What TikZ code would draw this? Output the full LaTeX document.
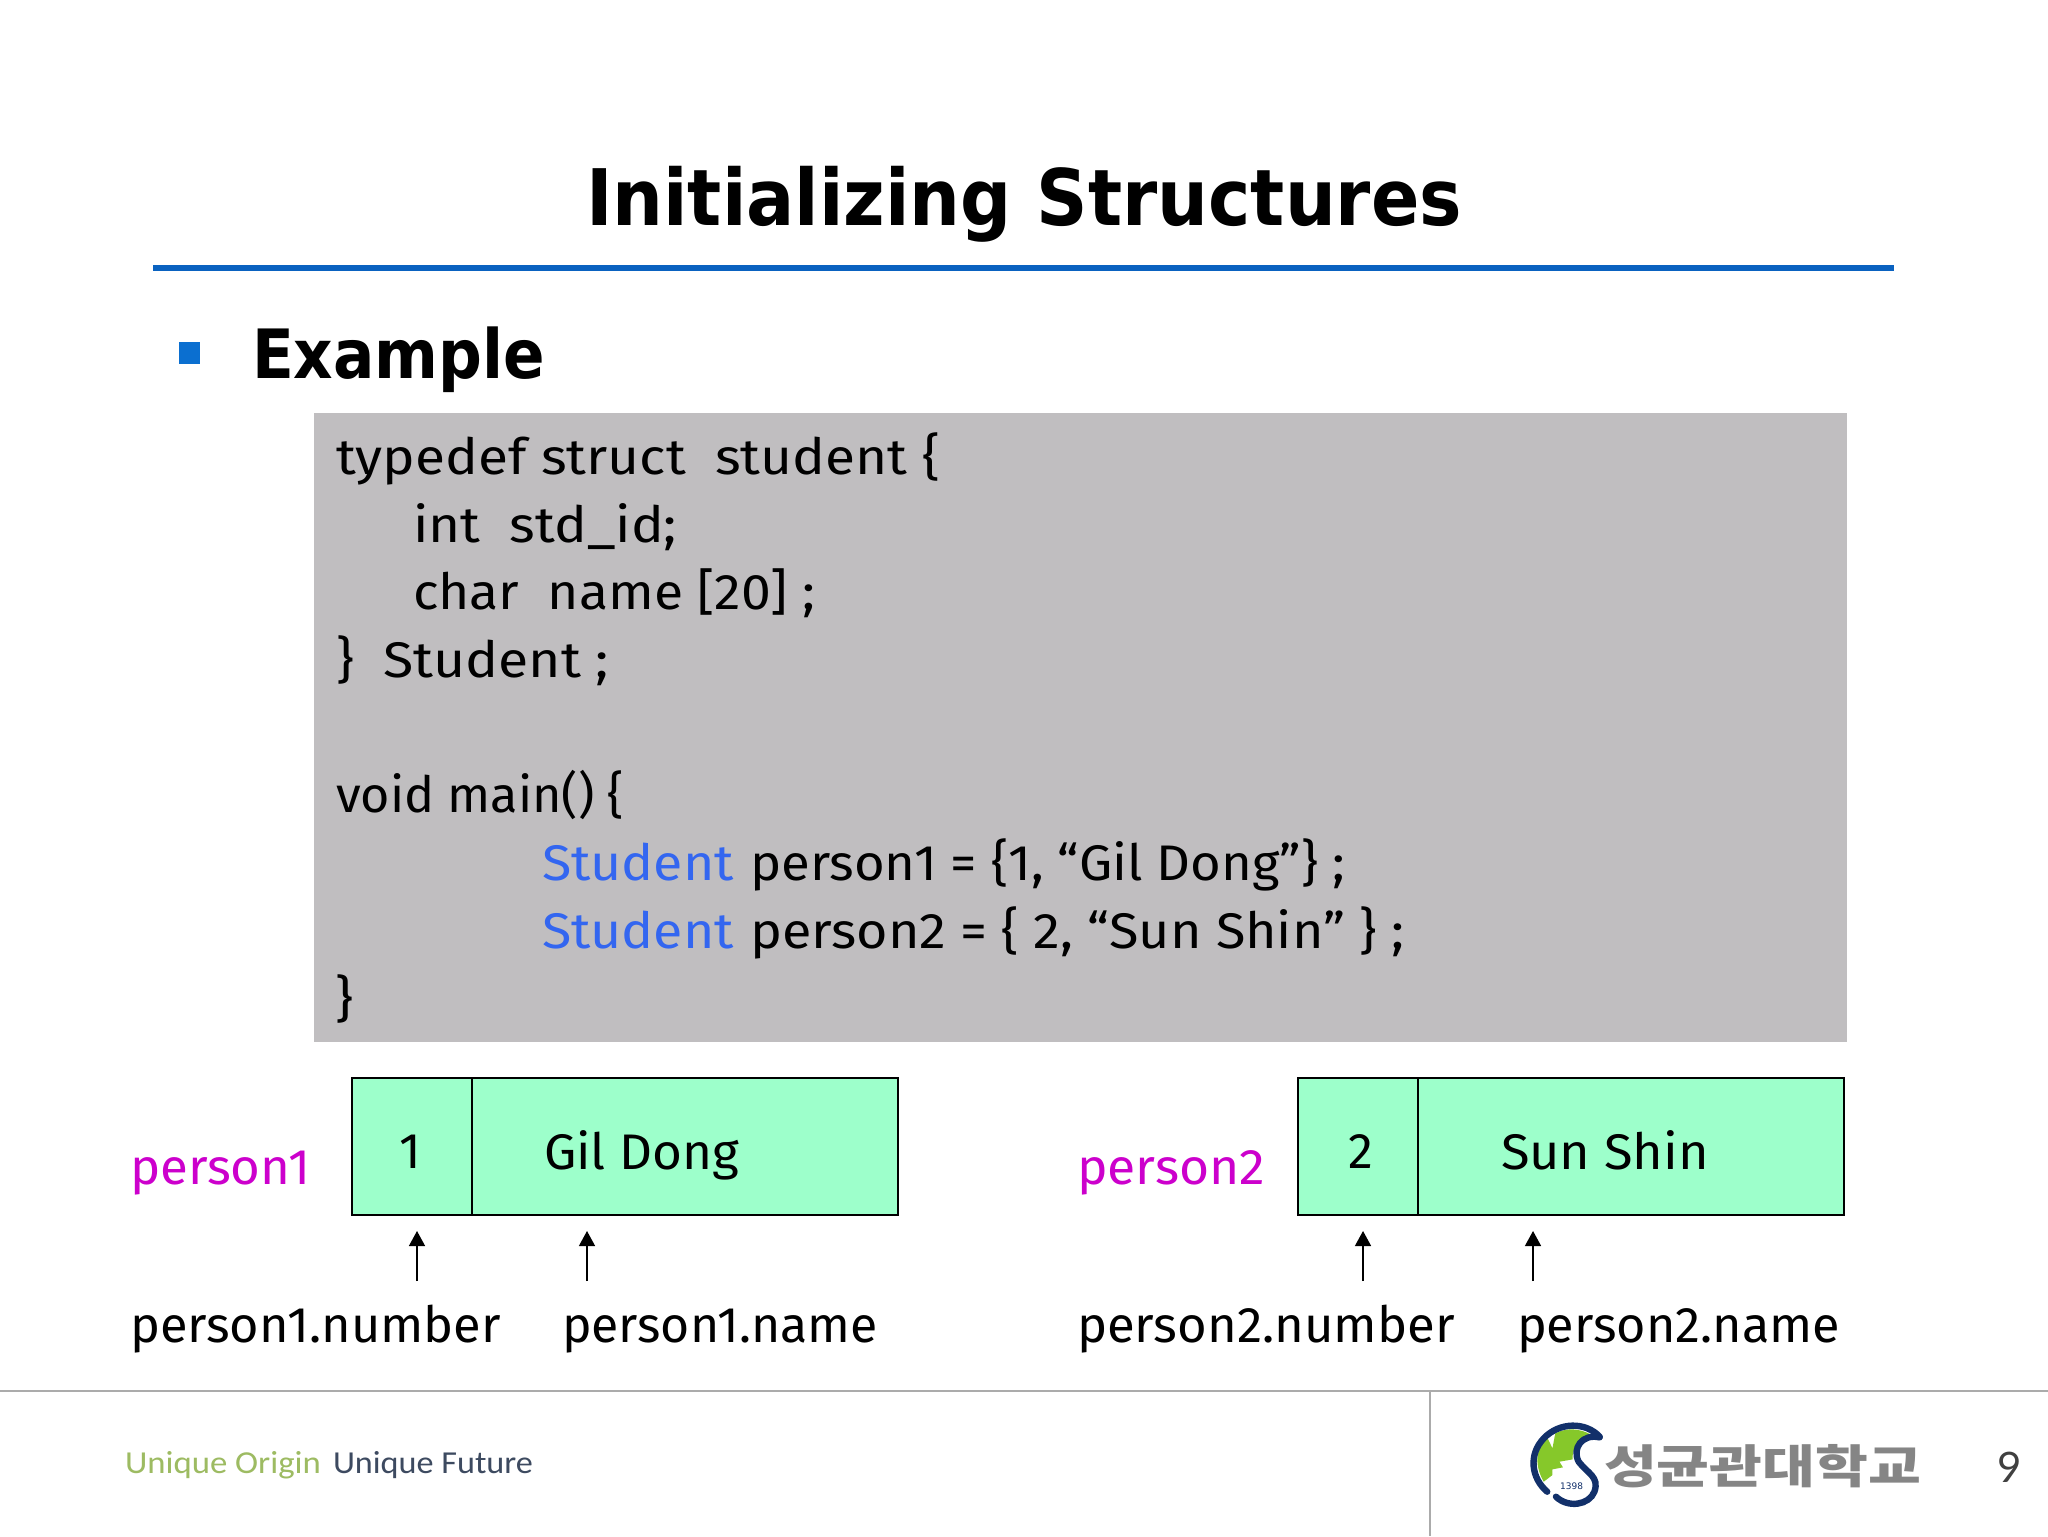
\documentclass[tikz,border=0pt]{standalone}
\usepackage{fontspec}
\usepackage{graphicx}
\usetikzlibrary{arrows.meta}
\setmainfont{Open Sans}
\newfontfamily\titlefont{DejaVu Sans}
\newfontfamily\hand{Fira Sans}
\newfontfamily\footfont{Carlito}
\newfontfamily\pagefont{Lato}
\newfontfamily\krfont{Noto Sans CJK KR}
\definecolor{codebg}{HTML}{C0BEC0}
\definecolor{cellbg}{HTML}{9DFFCB}
\definecolor{rulecol}{HTML}{0A62C0}
\definecolor{bulletcol}{HTML}{0B6FD0}
\definecolor{codeblue}{HTML}{3366F0}
\definecolor{pname}{HTML}{CC00CC}
\definecolor{footline}{HTML}{ABABAB}
\definecolor{oriG}{HTML}{9DBB62}
\definecolor{futB}{HTML}{3D4A60}
\definecolor{logoB}{HTML}{12306A}
\definecolor{logoG}{HTML}{86C82A}
\definecolor{krgray}{HTML}{858585}
% fit text to a width given in picture pixels (1 px = .5pt)
\newsavebox{\fitbox}
\newcommand{\fitw}[2]{\sbox{\fitbox}{#2}\pgfmathsetmacro{\fitfac}{(#1*0.5)/\wd\fitbox}\scalebox{\fitfac}[1]{\usebox{\fitbox}}}
\tikzset{
  txt/.style={anchor=base west,inner sep=0pt,outer sep=0pt},
  handtxt/.style={txt,font=\hand\fontsize{25}{30}\selectfont},
  cell/.style={draw=black,line width=0.9pt,fill=cellbg,minimum height=68.5pt,inner sep=0pt,anchor=north west},
  ptr/.style={-{Triangle[length=7.5pt,width=8pt]},line width=0.7pt,black},
  footrule/.style={draw=footline,line width=1pt}
}
\begin{document}
\begin{tikzpicture}[x=0.5pt,y=-0.5pt]
\useasboundingbox[fill=white] (0,0) rectangle (2048,1536);
% title
\node[txt,font=\titlefont\bfseries\fontsize{39}{44}\selectfont] (title) at (586,225) {\fitw{876}{Initializing Structures}};
\fill[rulecol] (153,265) rectangle (1894,271);
\fill[bulletcol] (179,342) rectangle (200,364);
\node[txt,font=\titlefont\bfseries\fontsize{34}{40}\selectfont] (ex) at (252,378) {\fitw{293}{Example}};
% code
\fill[codebg] (314,413) rectangle (1847,1042);
\node[handtxt] (c1) at (336,474) {\fitw{604}{typedef struct~~student \{}};
\node[handtxt] (c2) at (413,542) {\fitw{264}{int~~std\_id;}};
\node[handtxt] (c3) at (413,609) {\fitw{402}{char~~name [20] ;}};
\node[handtxt] (c4) at (336,677) {\fitw{273}{\}~~Student ;}};
\node[handtxt] (c5) at (336,812) {\fitw{288}{void main() \{}};
\node[handtxt,text=codeblue] (c6a) at (542,880) {\fitw{192}{Student}};
\node[handtxt] (c6b) at (750,880) {\fitw{595}{person1 = \{1, “Gil Dong”\} ;}};
\node[handtxt,text=codeblue] (c7a) at (542,948) {\fitw{192}{Student}};
\node[handtxt] (c7b) at (750,948) {\fitw{654}{person2 = \{ 2, “Sun Shin” \} ;}};
\node[handtxt] (c8) at (335,1016) {\fitw{18}{\}}};
% left record
\node[cell,minimum width=60pt] (n1) at (351,1077) {};
\node[cell,minimum width=213.2pt] (s1) at (471,1077) {};
\node[handtxt,anchor=base] (v1) at (410,1168) {1};
\node[handtxt] (g1) at (544,1169) {\fitw{195}{Gil Dong}};
\node[handtxt,text=pname] (p1) at (130,1184) {\fitw{181}{person1}};
% right record
\node[cell,minimum width=60pt] (n2) at (1297,1077) {};
\node[cell,minimum width=213.2pt] (s2) at (1417,1077) {};
\node[handtxt,anchor=base] (v2) at (1361,1168) {2};
\node[handtxt] (g2) at (1501,1169) {\fitw{208}{Sun Shin}};
\node[handtxt,text=pname] (p2) at (1077,1184) {\fitw{188}{person2}};
% arrows
\coordinate (a1b) at (417,1281); \coordinate (a1t) at (417,1231);
\coordinate (a2b) at (587,1281); \coordinate (a2t) at (587,1231);
\coordinate (a3b) at (1363,1281); \coordinate (a3t) at (1363,1231);
\coordinate (a4b) at (1533,1281); \coordinate (a4t) at (1533,1231);
\draw[ptr] (a1b) -- (a1t);
\draw[ptr] (a2b) -- (a2t);
\draw[ptr] (a3b) -- (a3t);
\draw[ptr] (a4b) -- (a4t);
\node[handtxt] (l1) at (130,1342) {\fitw{371}{person1.number}};
\node[handtxt] (l2) at (562,1342) {\fitw{316}{person1.name}};
\node[handtxt] (l3) at (1077,1342) {\fitw{378}{person2.number}};
\node[handtxt] (l4) at (1517,1342) {\fitw{323}{person2.name}};
% footer
\draw[footrule] (0,1391) -- (2048,1391);
\draw[footrule] (1430,1391) -- (1430,1536);
\node[txt,font=\footfont\fontsize{16}{20}\selectfont,text=oriG] (f1) at (125,1473) {\fitw{196}{Unique Origin}};
\node[txt,font=\footfont\fontsize{16}{20}\selectfont,text=futB] (f2) at (333,1473) {\fitw{200}{Unique Future}};
\node[txt,font=\krfont\bfseries\fontsize{23}{28}\selectfont,text=krgray] (kr) at (1604,1483) {\fitw{317}{성균관대학교}};
\node[txt,font=\pagefont\fontsize{21}{26}\selectfont,text=black!75] (pg) at (1997,1482) {9};
% logo (coordinates in the zoomed crop's units)
\begin{scope}[shift={(1500,1380)},x=0.1748pt,y=-0.1667pt]
\fill[logoG] (125,305) .. controls (95,250) and (105,200) .. (135,172)
  -- (150,205) -- (158,160) .. controls (190,142) and (230,145) .. (262,165)
  .. controls (225,172) and (205,205) .. (208,238)
  -- (170,245) -- (180,262) -- (150,268) -- (150,285) -- cycle;
\draw[logoB,line width=3.2pt,line cap=round] (285,170) .. controls (245,125) and (170,125) .. (125,175)
  .. controls (80,225) and (90,295) .. (135,335);
\draw[logoB,line width=3.2pt,line cap=round] (285,172) .. controls (235,160) and (205,205) .. (225,245)
  .. controls (250,280) and (285,290) .. (270,335)
  .. controls (255,375) and (195,385) .. (160,350);
\node[inner sep=0pt,font=\titlefont\fontsize{4.5}{5}\selectfont,text=logoB] (yr) at (205,318) {1398};
\end{scope}
\end{tikzpicture}
\end{document}
